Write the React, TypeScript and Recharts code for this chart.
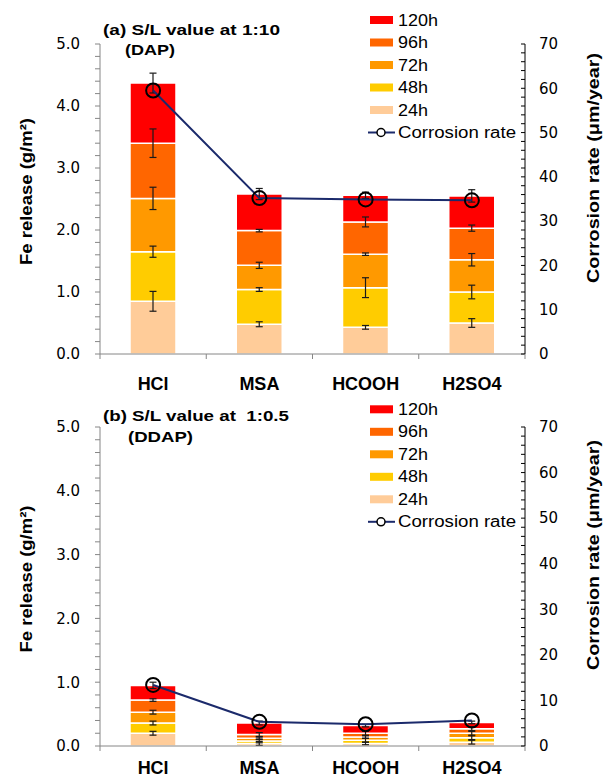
import { ComposedChart, Bar, Line, XAxis, YAxis, ErrorBar } from 'recharts'

// ── Datos ──────────────────────────────────────────────────
const categories = ['HCl', 'MSA', 'HCOOH', 'H2SO4']
const hourKeys = ['h24', 'h48', 'h72', 'h96', 'h120']
const hourLabels = ['24h', '48h', '72h', '96h', '120h']
const hourColors = ['#FFCC99', '#FFCC00', '#FF9900', '#FF6600', '#FF0000']

// (a) S/L 1:10 (DAP) — incremento por intervalo, g/m2
const dapH24 = [0.85, 0.48, 0.43, 0.50]
const dapH48 = [0.80, 0.56, 0.64, 0.50]
const dapH72 = [0.86, 0.39, 0.54, 0.52]
const dapH96 = [0.89, 0.56, 0.52, 0.51]
const dapH120 = [0.97, 0.59, 0.43, 0.52]
const dapE24 = [0.16, 0.04, 0.03, 0.07]
const dapE48 = [0.09, 0.03, 0.16, 0.11]
const dapE72 = [0.18, 0.05, 0.02, 0.10]
const dapE96 = [0.23, 0.02, 0.08, 0.05]
const dapE120 = [0.16, 0.09, 0.05, 0.10]
const dapRate = [59.5, 35.2, 34.9, 34.7]

// (b) S/L 1:0.5 (DDAP)
const ddapH24 = [0.20, 0.04, 0.04, 0.06]
const ddapH48 = [0.16, 0.04, 0.05, 0.07]
const ddapH72 = [0.17, 0.04, 0.05, 0.07]
const ddapH96 = [0.19, 0.06, 0.06, 0.07]
const ddapH120 = [0.23, 0.18, 0.12, 0.10]
const ddapE24 = [0.03, 0.03, 0.02, 0.03]
const ddapE48 = [0.03, 0.03, 0.03, 0.03]
const ddapE72 = [0.03, 0.02, 0.02, 0.03]
const ddapE96 = [0.02, 0.03, 0.03, 0.03]
const ddapE120 = [0.05, 0.03, 0.02, 0.02]
const ddapRate = [13.4, 5.3, 4.8, 5.6]

const leftTicks = [0, 0.2, 0.4, 0.6, 0.8, 1, 1.2, 1.4, 1.6, 1.8, 2, 2.2, 2.4, 2.6, 2.8, 3,
  3.2, 3.4, 3.6, 3.8, 4, 4.2, 4.4, 4.6, 4.8, 5]
const rightTicks = [0, 2, 4, 6, 8, 10, 12, 14, 16, 18, 20, 22, 24, 26, 28, 30, 32, 34, 36,
  38, 40, 42, 44, 46, 48, 50, 52, 54, 56, 58, 60, 62, 64, 66, 68, 70]

const buildRows = (h: number[][], e: number[][], rate: number[]) =>
  categories.map((name, i) => {
    const row: Record<string, number | string> = { name, rate: rate[i] }
    hourKeys.forEach((k, j) => { row[k] = h[j][i]; row['e' + k] = e[j][i] })
    return row
  })

const dapRows = buildRows(
  [dapH24, dapH48, dapH72, dapH96, dapH120],
  [dapE24, dapE48, dapE72, dapE96, dapE120], dapRate)
const ddapRows = buildRows(
  [ddapH24, ddapH48, ddapH72, ddapH96, ddapH120],
  [ddapE24, ddapE48, ddapE72, ddapE96, ddapE120], ddapRate)

const GRAY = '#868686'
const LINE = '#1B2A6B'
const SANS = "'Liberation Sans', Arial, sans-serif"
const TICKF = "'DejaVu Sans', sans-serif"

// ── Tick de categoría con marcas en los límites ────────────
function CatTick(props: any) {
  const { x, y, payload, index, visibleTicksCount, gap } = props
  const half = payload?.offset ?? 0
  const axisY = y - gap
  return (
    <g>
      <line x1={x - half} x2={x - half} y1={axisY} y2={axisY + 5} stroke={GRAY} />
      {index === visibleTicksCount - 1 && (
        <line x1={x + half} x2={x + half} y1={axisY} y2={axisY + 5} stroke={GRAY} />
      )}
      <text x={x} y={y} dy="0.71em" textAnchor="middle" fill="#000"
        style={{ fontFamily: SANS, fontSize: 18, fontWeight: 700 }}>{payload.value}</text>
    </g>
  )
}

function Panel({ rows, top, height, bottom, gap }: {
  rows: Record<string, number | string>[]; top: number; height: number; bottom: number; gap: number
}) {
  return (
    <div style={{ position: 'absolute', left: 0, top, width: 604, height }}>
      <ComposedChart width={604} height={height} data={rows}
        margin={{ top: 44, right: 0, bottom, left: 0 }}>
        <XAxis xAxisId="cat" dataKey="name" height={30} interval={0}
          tickSize={0} tickMargin={gap} tickLine={false}
          axisLine={{ stroke: GRAY }}
          tick={(p: any) => <CatTick {...p} gap={gap} />} />
        <YAxis yAxisId="left" width={100} domain={[0, 5]} ticks={leftTicks} interval={0}
          allowDataOverflow
          tickFormatter={(v: number) => (v % 1 === 0 ? v.toFixed(1) : '')}
          tickSize={5} tickMargin={15}
          axisLine={{ stroke: GRAY }} tickLine={{ stroke: GRAY }}
          tick={{ fill: '#000', fontSize: 15, fontFamily: TICKF }} />
        <YAxis yAxisId="right" orientation="right" width={79} domain={[0, 70]} ticks={rightTicks}
          interval={0} allowDataOverflow
          tickFormatter={(v: number) => (v % 10 === 0 ? String(v) : '')}
          tickSize={-4} tickMargin={18}
          axisLine={{ stroke: '#000' }} tickLine={{ stroke: '#000' }}
          tick={{ fill: '#000', fontSize: 15, fontFamily: TICKF, textAnchor: 'start' }} />
        {hourKeys.map((k, i) => (
          <Bar key={k} xAxisId="cat" yAxisId="left" dataKey={k} stackId="fe"
            fill={hourColors[i]} stroke="#fff" strokeWidth={1.5} barSize={46}
            isAnimationActive={false}>
            <ErrorBar dataKey={'e' + k} width={3.5} stroke="#1a1a1a" strokeWidth={1.2} />
          </Bar>
        ))}
        <Line xAxisId="cat" yAxisId="right" dataKey="rate" stroke={LINE} strokeWidth={2}
          dot={{ r: 7, stroke: '#000', strokeWidth: 2, fill: 'none' }}
          activeDot={false} isAnimationActive={false} />
      </ComposedChart>
    </div>
  )
}

// ── Leyenda y títulos (texto) ──────────────────────────────
const legendWidths = [30, 30, 30, 30, 40]

function Legend({ y0 }: { y0: number }) {
  const items = hourLabels.map((l, i) => ({ l, c: hourColors[i], w: legendWidths[i] })).reverse()
  return (
    <g>
      {items.map((it, i) => (
        <g key={it.l}>
          <rect x={370} y={y0 + i * 22.5 - 4} width={23} height={8} fill={it.c} />
          <text x={398} y={y0 + i * 22.5 + 5.5} textLength={it.w} lengthAdjust="spacingAndGlyphs"
            style={{ fontFamily: SANS, fontSize: 16 }}>{it.l}</text>
        </g>
      ))}
      <line x1={368} x2={395} y1={y0 + 5 * 22.5} y2={y0 + 5 * 22.5} stroke={LINE} strokeWidth={2} />
      <circle cx={381} cy={y0 + 5 * 22.5} r={4} stroke="#000" strokeWidth={1.5} fill="#fff" />
      <text x={398} y={y0 + 5 * 22.5 + 5.5} textLength={118} lengthAdjust="spacingAndGlyphs"
        style={{ fontFamily: SANS, fontSize: 16 }}>Corrosion rate</text>
    </g>
  )
}

function AxisTitles({ cy, cyR }: { cy: number; cyR: number }) {
  const st = { fontFamily: SANS, fontSize: 16.5, fontWeight: 700 }
  return (
    <g>
      <text x={25.5} y={cy} transform={`rotate(-90 25.5 ${cy})`} textAnchor="middle"
        dominantBaseline="central" textLength={147} lengthAdjust="spacingAndGlyphs" style={st}>
        Fe release (g/m²)
      </text>
      <text x={592.5} y={cyR} transform={`rotate(-90 592.5 ${cyR})`} textAnchor="middle"
        dominantBaseline="central" textLength={230} lengthAdjust="spacingAndGlyphs" style={st}>
        Corrosion rate (μm/year)
      </text>
    </g>
  )
}

export default function App() {
  const tst = { fontFamily: SANS, fontSize: 15, fontWeight: 700, whiteSpace: 'pre' as const }
  return (
    <div style={{ position: 'absolute', left: 0, top: 0, width: 604, height: 777, background: '#fff', overflow: 'hidden' }}>
      <Panel rows={dapRows} top={0} height={400} bottom={16} gap={23} />
      <Panel rows={ddapRows} top={383} height={394} bottom={1} gap={15} />
      <svg width={604} height={777} style={{ position: 'absolute', left: 0, top: 0, pointerEvents: 'none' }}>
        <text x={103} y={35} textLength={177} lengthAdjust="spacingAndGlyphs" style={tst}>(a) S/L value at 1:10</text>
        <text x={125} y={54.5} textLength={50} lengthAdjust="spacingAndGlyphs" style={tst}>(DAP)</text>
        <text x={103} y={421} textLength={186} lengthAdjust="spacingAndGlyphs" style={tst}>(b) S/L value at  1:0.5</text>
        <text x={128} y={442} textLength={65} lengthAdjust="spacingAndGlyphs" style={tst}>(DDAP)</text>
        <Legend y0={20} />
        <Legend y0={409.3} />
        <AxisTitles cy={191.5} cyR={168} />
        <AxisTitles cy={579} cyR={555} />
      </svg>
    </div>
  )
}
